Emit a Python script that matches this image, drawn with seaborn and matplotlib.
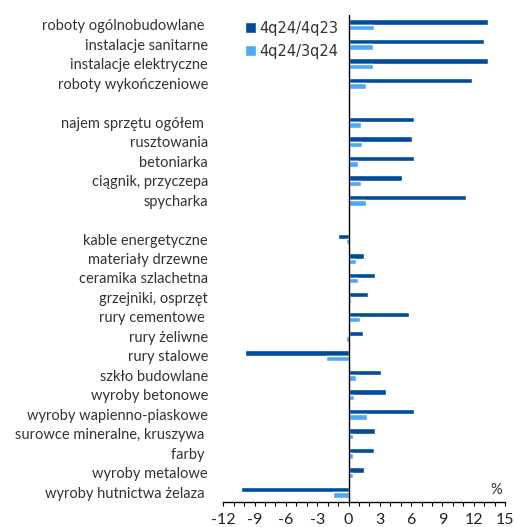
import matplotlib
matplotlib.use("Agg")
import matplotlib.pyplot as plt
import seaborn as sns
import pandas as pd
import numpy as np
from matplotlib.ticker import MultipleLocator

categories = [
    "roboty ogólnobudowlane ", "instalacje sanitarne", "instalacje elektryczne",
    "roboty wykończeniowe", " ",
    "najem sprzętu ogółem ", "rusztowania", "betoniarka", "ciągnik, przyczepa",
    "spycharka", "  ",
    "kable energetyczne", "materiały drzewne", "ceramika szlachetna",
    "grzejniki, osprzęt", "rury cementowe ", "rury żeliwne", "rury stalowe",
    "szkło budowlane", "wyroby betonowe", "wyroby wapienno-piaskowe",
    "surowce mineralne, kruszywa ", "farby ", "wyroby metalowe",
    "wyroby hutnictwa żelaza ",
]
yoy = [13.4, 13.0, 13.4, 11.8, np.nan,
       6.3, 6.1, 6.3, 5.1, 11.3, np.nan,
       -1.0, 1.5, 2.5, 1.9, 5.8, 1.4, -9.9,
       3.1, 3.6, 6.3, 2.5, 2.4, 1.5, -10.3]
qoq = [2.4, 2.3, 2.3, 1.7, np.nan,
       1.2, 1.3, 0.9, 1.2, 1.7, np.nan,
       -0.2, 0.7, 0.9, 0.2, 1.1, -0.2, -2.2,
       0.7, 0.5, 1.8, 0.4, 0.4, 0.4, -1.5]
series = ["4q24/4q23", "4q24/3q24"]
colors = ["#004C9B", "#4FA8F5"]

df = pd.DataFrame({
    "cat": categories * 2,
    "val": yoy + qoq,
    "series": [series[0]] * len(categories) + [series[1]] * len(categories),
})

sns.set_theme(style="white")
plt.rcParams["font.family"] = ["Lato", "DejaVu Sans"]
plt.rcParams["axes.unicode_minus"] = False

fig = plt.figure(figsize=(5.15, 5.27), dpi=100)
ax = fig.add_axes([0.4336, 0.0474, 0.9806 - 0.4336, 0.9715 - 0.0474])

sns.barplot(data=df, y="cat", x="val", hue="series", order=categories,
            hue_order=series, palette=colors, orient="h", width=0.56,
            saturation=1, ax=ax, legend=True)

ax.set_xlim(-12, 15)
ax.set_ylim(24.5, -0.5)
ax.axvline(0, color="black", lw=1.0)
ax.set_xlabel("")
ax.set_ylabel("")
for s in ["top", "right", "left"]:
    ax.spines[s].set_visible(False)
ax.spines["bottom"].set_color("black")
ax.spines["bottom"].set_linewidth(1.0)
ax.xaxis.set_major_locator(MultipleLocator(3))
ax.xaxis.set_minor_locator(MultipleLocator(1))
ax.tick_params(axis="x", which="both", direction="out", length=3, width=0.8,
               color="black", labelsize=11.5, labelcolor="#222222", pad=5, bottom=True)
ax.tick_params(axis="y", length=0, labelsize=10.5, labelcolor="#333333", pad=11)

ax.text(14.2, 23.9, "%", fontsize=10.5, color="#333333", ha="center", va="center")

leg = ax.legend(loc="upper left", bbox_to_anchor=(0.055, 1.0), frameon=False,
                fontsize=10.5, handlelength=0.8, handleheight=0.8,
                handletextpad=0.2, labelspacing=0.55, borderaxespad=0)
for t in leg.get_texts():
    t.set_color("#333333")
    t.set_family(["DejaVu Sans"])

fig.savefig("out.png", dpi=100)
